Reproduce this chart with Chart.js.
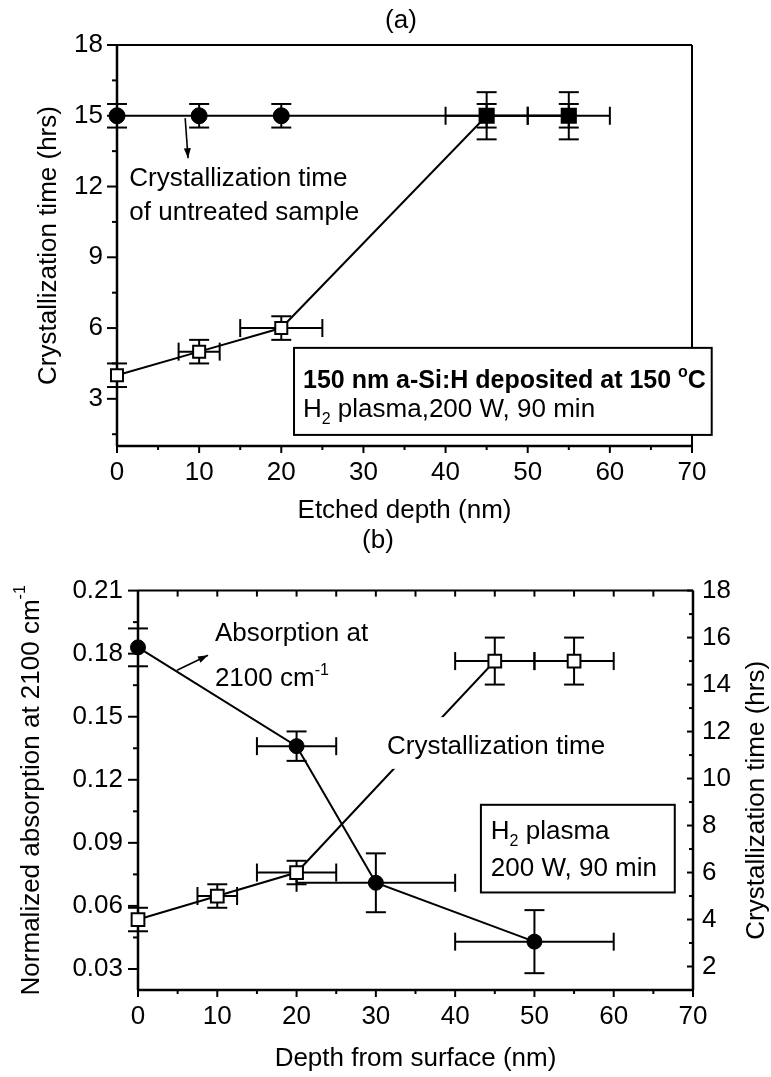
<!DOCTYPE html>
<html lang="en">
<head>
<meta charset="UTF-8">
<title>Crystallization time and absorption vs depth</title>
<script src="https://cdn.jsdelivr.net/npm/chart.js"></script>
<style>
  body { margin: 0; background: #fff; }
  #wrap { position: relative; width: 771px; height: 1077px; }
  #chartA { position: absolute; left: 0; top: 0; width: 771px; height: 560px; }
  #chartB { position: absolute; left: 0; top: 560px; width: 771px; height: 517px; }
</style>
</head>
<body>
<div id="wrap">
  <canvas id="chartA" width="771" height="560"></canvas>
  <canvas id="chartB" width="771" height="517"></canvas>
</div>
<script>
const FONT = '"Liberation Sans", Arial, sans-serif';
const BLACK = '#000';

// (a) crystallization time vs etched depth
const depthA = [0, 10, 20, 45, 55];
const crystA = [4, 5, 6, 15, 15];
const crystErrYA = [0.5, 0.5, 0.5, 1, 1];
const crystErrXA = [0, 2.5, 5, 5, 5];
const untreatedA = [15, 15, 15, 15, 15];
const untreatedErrYA = [0.5, 0.5, 0.5, 0.5, 0.5];
const xTicksA = [0, 10, 20, 30, 40, 50, 60, 70];
const xMinorA = [5, 15, 25, 35, 45, 55, 65];
const yTicksA = [3, 6, 9, 12, 15, 18];
const yMinorA = [1.5, 4.5, 7.5, 10.5, 13.5, 16.5];

// (b) absorption and crystallization time vs depth from surface
const depthAbsB = [0, 20, 30, 50];
const absB = [0.183, 0.136, 0.071, 0.043];
const absErrYB = [0.009, 0.007, 0.014, 0.015];
const absErrXB = [0, 5, 10, 10];
const depthCrystB = [0, 10, 20, 45, 55];
const crystB = [4, 5, 6, 15, 15];
const crystErrYB = [0.5, 0.5, 0.5, 1, 1];
const crystErrXB = [0, 2.5, 5, 5, 5];
const xTicksB = [0, 10, 20, 30, 40, 50, 60, 70];
const xMinorB = [5, 15, 25, 35, 45, 55, 65];
const yTicksB = [0.03, 0.06, 0.09, 0.12, 0.15, 0.18, 0.21];
const yMinorB = [0.045, 0.075, 0.105, 0.135, 0.165, 0.195];
const y2TicksB = [2, 4, 6, 8, 10, 12, 14, 16, 18];
const y2MinorB = [3, 5, 7, 9, 11, 13, 15, 17];

const toXY = (xs, ys) => xs.map((x, i) => ({ x: x, y: ys[i] }));
const setTicks = vals => scale => { scale.ticks = vals.map(v => ({ value: v })); };

function line(ctx, x1, y1, x2, y2, w) {
  ctx.lineWidth = w;
  ctx.beginPath(); ctx.moveTo(x1, y1); ctx.lineTo(x2, y2); ctx.stroke();
}
// tick marks along an axis; len sign gives direction
function tickMarks(ctx, scale, vals, at, len, w) {
  vals.forEach(v => {
    const p = scale.getPixelForValue(v);
    if (scale.isHorizontal()) line(ctx, p, at, p, at + len, w);
    else line(ctx, at, p, at + len, p, w);
  });
}
function arrow(ctx, x1, y1, x2, y2) {
  line(ctx, x1, y1, x2, y2, 1.6);
  const ang = Math.atan2(y2 - y1, x2 - x1);
  ctx.beginPath();
  ctx.moveTo(x2, y2);
  ctx.lineTo(x2 - 10 * Math.cos(ang) + 3.5 * Math.sin(ang), y2 - 10 * Math.sin(ang) - 3.5 * Math.cos(ang));
  ctx.lineTo(x2 - 10 * Math.cos(ang) - 3.5 * Math.sin(ang), y2 - 10 * Math.sin(ang) + 3.5 * Math.cos(ang));
  ctx.closePath(); ctx.fill();
}
// text with sub/superscript parts
function rich(ctx, parts, x, y, size, weight, measureOnly) {
  let cx = x;
  parts.forEach(p => {
    const s = (p.sub || p.sup) ? Math.round(size * 0.62) : size;
    ctx.font = (weight || 'normal') + ' ' + s + 'px ' + FONT;
    const dy = p.sub ? size * 0.28 : (p.sup ? -size * 0.42 : 0);
    if (!measureOnly) ctx.fillText(p.t, cx, y + dy);
    cx += ctx.measureText(p.t).width;
  });
  return cx - x;
}

const errorBars = {
  id: 'errorBars',
  beforeDatasetsDraw(chart) {
    const ctx = chart.ctx;
    ctx.save();
    ctx.strokeStyle = BLACK;
    chart.data.datasets.forEach((ds, i) => {
      const meta = chart.getDatasetMeta(i);
      const xs = chart.scales[meta.xAxisID], ys = chart.scales[meta.yAxisID];
      ds.data.forEach((p, j) => {
        const px = xs.getPixelForValue(p.x), py = ys.getPixelForValue(p.y);
        const ey = ds.errY ? ds.errY[j] : 0, ex = ds.errX ? ds.errX[j] : 0;
        if (ey) {
          const t = ys.getPixelForValue(p.y + ey), b = ys.getPixelForValue(p.y - ey);
          line(ctx, px, t, px, b, 2);
          line(ctx, px - 10, t, px + 10, t, 2);
          line(ctx, px - 10, b, px + 10, b, 2);
        }
        if (ex) {
          const l = xs.getPixelForValue(p.x - ex), r = xs.getPixelForValue(p.x + ex);
          line(ctx, l, py, r, py, 2);
          line(ctx, l, py - 9, l, py + 9, 2);
          line(ctx, r, py - 9, r, py + 9, 2);
        }
      });
    });
    ctx.restore();
  }
};

const tickFont = { family: FONT, size: 26 };
const titleFont = { family: FONT, size: 26 };

// ---------- chart (a) ----------
const frameA = {
  id: 'frameA',
  beforeDatasetsDraw(chart) {
    const { ctx, chartArea: a, scales: { x, y } } = chart;
    ctx.save();
    ctx.strokeStyle = BLACK;
    line(ctx, a.left, a.top, a.right, a.top, 2);
    line(ctx, a.right, a.top, a.right, a.bottom, 2);
    line(ctx, a.left - 1, a.bottom, a.right + 1, a.bottom, 2.5);
    line(ctx, a.left, a.top, a.left, a.bottom, 2.5);
    tickMarks(ctx, x, xTicksA, a.bottom, 7, 2);
    tickMarks(ctx, x, xMinorA, a.bottom, 4, 2);
    tickMarks(ctx, y, yTicksA, a.left, -10, 2);
    tickMarks(ctx, y, yMinorA, a.left, -5, 2);
    ctx.restore();
  }
};
const notesA = {
  id: 'notesA',
  afterDatasetsDraw(chart) {
    const { ctx, scales: { x, y } } = chart;
    ctx.save();
    ctx.fillStyle = BLACK; ctx.strokeStyle = BLACK;
    ctx.textBaseline = 'alphabetic'; ctx.textAlign = 'left';
    arrow(ctx, x.getPixelForValue(8.3), y.getPixelForValue(14.9), x.getPixelForValue(8.65), y.getPixelForValue(13.2));
    ctx.font = '26px ' + FONT;
    ctx.fillText('Crystallization time', x.getPixelForValue(1.5), y.getPixelForValue(12.02));
    ctx.fillText('of untreated sample', x.getPixelForValue(1.5), y.getPixelForValue(10.6));
    // info box
    const bl = x.getPixelForValue(21.55), br = x.getPixelForValue(72.4);
    const bt = y.getPixelForValue(5.16), bb = y.getPixelForValue(1.47);
    ctx.fillStyle = '#fff';
    ctx.fillRect(bl, bt, br - bl, bb - bt);
    ctx.lineWidth = 2;
    ctx.strokeRect(bl, bt, br - bl, bb - bt);
    ctx.fillStyle = BLACK;
    rich(ctx, [{ t: '150 nm a-Si:H deposited at 150 ' }, { t: 'o', sup: true }, { t: 'C' }],
      x.getPixelForValue(22.64), y.getPixelForValue(3.46), 25, 'bold');
    rich(ctx, [{ t: 'H' }, { t: '2', sub: true }, { t: ' plasma,200 W, 90 min' }],
      x.getPixelForValue(22.64), y.getPixelForValue(2.23), 26);
    // panel labels
    ctx.textAlign = 'center'; ctx.textBaseline = 'middle';
    ctx.font = '26px ' + FONT;
    ctx.fillText('(a)', 401, 21);
    ctx.fillText('(b)', 378, 541);
    ctx.restore();
  }
};

new Chart(document.getElementById('chartA'), {
  type: 'line',
  data: {
    datasets: [
      {
        data: toXY(depthA, crystA), errY: crystErrYA, errX: crystErrXA,
        borderColor: BLACK, borderWidth: 2, pointStyle: 'rect',
        pointRadius: [8.5, 8.5, 8.5, 10, 10],
        pointBackgroundColor: ['#fff', '#fff', '#fff', '#000', '#000'],
        pointBorderColor: BLACK, pointBorderWidth: 2, clip: false
      },
      {
        data: toXY(depthA, untreatedA), errY: untreatedErrYA,
        borderColor: BLACK, borderWidth: 2, pointStyle: 'circle',
        pointRadius: [8, 8, 8, 6.5, 6.5],
        pointBackgroundColor: BLACK, pointBorderColor: BLACK, pointBorderWidth: 1, clip: false
      }
    ]
  },
  options: {
    responsive: false, animation: false,
    layout: { padding: { left: 0, right: 79, top: 45, bottom: 0 } },
    plugins: { legend: { display: false }, tooltip: { enabled: false } },
    scales: {
      x: {
        type: 'linear', min: 0, max: 70,
        afterBuildTicks: setTicks(xTicksA),
        afterFit: s => { s.height = 114; },
        grid: { display: false, drawTicks: false }, border: { display: false },
        ticks: { font: tickFont, color: BLACK, padding: 11, maxRotation: 0 },
        title: { display: true, text: 'Etched depth (nm)', font: titleFont, color: BLACK, padding: { top: 0, bottom: 34 } }
      },
      y: {
        type: 'linear', min: 1, max: 18,
        afterBuildTicks: setTicks(yTicksA),
        afterFit: s => { s.width = 117; },
        grid: { display: false, drawTicks: false }, border: { display: false },
        ticks: { font: tickFont, color: BLACK, padding: 14 },
        title: { display: true, text: 'Crystallization time (hrs)', font: titleFont, color: BLACK, padding: { top: 33, bottom: 0 } }
      }
    }
  },
  plugins: [frameA, errorBars, notesA]
});

// ---------- chart (b) ----------
const frameB = {
  id: 'frameB',
  beforeDatasetsDraw(chart) {
    const { ctx, chartArea: a, scales: { x, y, y2 } } = chart;
    ctx.save();
    ctx.strokeStyle = BLACK;
    line(ctx, a.left, a.top, a.right, a.top, 2);
    line(ctx, a.right, a.top, a.right, a.bottom, 2.5);
    line(ctx, a.left - 1, a.bottom, a.right + 1, a.bottom, 2.5);
    line(ctx, a.left, a.top, a.left, a.bottom, 2.5);
    tickMarks(ctx, x, xTicksB, a.bottom, 7, 2);
    tickMarks(ctx, x, xMinorB, a.bottom, 4, 2);
    tickMarks(ctx, x, xTicksB.concat(xMinorB), a.top, 6, 2);
    tickMarks(ctx, y, yTicksB, a.left, -10, 2);
    tickMarks(ctx, y, yMinorB, a.left, -5, 2);
    tickMarks(ctx, y2, y2TicksB, a.right, -6, 2);
    tickMarks(ctx, y2, y2MinorB, a.right, -4, 2);
    ctx.restore();
  }
};
const notesB = {
  id: 'notesB',
  afterDatasetsDraw(chart) {
    const { ctx, chartArea: a, scales: { x, y } } = chart;
    ctx.save();
    ctx.fillStyle = BLACK; ctx.strokeStyle = BLACK;
    ctx.textAlign = 'left'; ctx.textBaseline = 'alphabetic';
    ctx.font = '26px ' + FONT;
    ctx.fillText('Absorption at', x.getPixelForValue(9.7), y.getPixelForValue(0.1858));
    rich(ctx, [{ t: '2100 cm' }, { t: '-1', sup: true }], x.getPixelForValue(9.7), y.getPixelForValue(0.1645), 26);
    arrow(ctx, x.getPixelForValue(4.92), y.getPixelForValue(0.1721), x.getPixelForValue(8.83), y.getPixelForValue(0.1792));
    // label over the crystallization line
    const ll = x.getPixelForValue(30.9), lr = x.getPixelForValue(60.2);
    const lt = y.getPixelForValue(0.1498), lb = y.getPixelForValue(0.1252);
    ctx.fillStyle = '#fff';
    ctx.fillRect(ll, lt, lr - ll, lb - lt);
    ctx.fillStyle = BLACK;
    ctx.font = '26px ' + FONT;
    ctx.fillText('Crystallization time', x.getPixelForValue(31.4), y.getPixelForValue(0.1323));
    // info box
    const bl = x.getPixelForValue(43.25), br = x.getPixelForValue(67.7);
    const bt = y.getPixelForValue(0.1081), bb = y.getPixelForValue(0.0664);
    ctx.fillStyle = '#fff';
    ctx.fillRect(bl, bt, br - bl, bb - bt);
    ctx.lineWidth = 2;
    ctx.strokeRect(bl, bt, br - bl, bb - bt);
    ctx.fillStyle = BLACK;
    rich(ctx, [{ t: 'H' }, { t: '2', sub: true }, { t: ' plasma' }], x.getPixelForValue(44.5), y.getPixelForValue(0.092), 26);
    ctx.font = '26px ' + FONT;
    ctx.fillText('200 W, 90 min', x.getPixelForValue(44.5), y.getPixelForValue(0.0744));
    // rotated axis titles
    ctx.textBaseline = 'middle';
    const leftParts = [{ t: 'Normalized absorption at 2100 cm' }, { t: '-1', sup: true }];
    const lw = rich(ctx, leftParts, 0, 0, 26, 'normal', true);
    ctx.save();
    ctx.translate(32, (a.top + a.bottom) / 2);
    ctx.rotate(-Math.PI / 2);
    rich(ctx, leftParts, -lw / 2, 0, 26);
    ctx.restore();
    ctx.save();
    ctx.translate(757, (a.top + a.bottom) / 2 + 10);
    ctx.rotate(-Math.PI / 2);
    ctx.textAlign = 'center';
    ctx.font = '26px ' + FONT;
    ctx.fillText('Crystallization time (hrs)', 0, 0);
    ctx.restore();
    ctx.restore();
  }
};

new Chart(document.getElementById('chartB'), {
  type: 'line',
  data: {
    datasets: [
      {
        data: toXY(depthCrystB, crystB), errY: crystErrYB, errX: crystErrXB, yAxisID: 'y2',
        borderColor: BLACK, borderWidth: 2, pointStyle: 'rect', pointRadius: 9,
        pointBackgroundColor: '#fff', pointBorderColor: BLACK, pointBorderWidth: 2, clip: false
      },
      {
        data: toXY(depthAbsB, absB), errY: absErrYB, errX: absErrXB, yAxisID: 'y',
        borderColor: BLACK, borderWidth: 2, pointStyle: 'circle', pointRadius: 7.5,
        pointBackgroundColor: BLACK, pointBorderColor: BLACK, pointBorderWidth: 1, clip: false
      }
    ]
  },
  options: {
    responsive: false, animation: false,
    layout: { padding: { left: 0, right: 0, top: 29, bottom: 0 } },
    plugins: { legend: { display: false }, tooltip: { enabled: false } },
    scales: {
      x: {
        type: 'linear', min: 0, max: 70,
        afterBuildTicks: setTicks(xTicksB),
        afterFit: s => { s.height = 87; },
        grid: { display: false, drawTicks: false }, border: { display: false },
        ticks: { font: tickFont, color: BLACK, padding: 11, maxRotation: 0 },
        title: { display: true, text: 'Depth from surface (nm)', font: titleFont, color: BLACK, padding: { top: 0, bottom: 3 } }
      },
      y: {
        type: 'linear', position: 'left', min: 0.02, max: 0.21,
        afterBuildTicks: setTicks(yTicksB),
        afterFit: s => { s.width = 138; },
        grid: { display: false, drawTicks: false }, border: { display: false },
        ticks: { font: tickFont, color: BLACK, padding: 15, callback: v => v.toFixed(2) }
      },
      y2: {
        type: 'linear', position: 'right', min: 1, max: 18,
        afterBuildTicks: setTicks(y2TicksB),
        afterFit: s => { s.width = 78; },
        grid: { display: false, drawTicks: false }, border: { display: false },
        ticks: { font: tickFont, color: BLACK, padding: 9 }
      }
    }
  },
  plugins: [frameB, errorBars, notesB]
});
</script>
</body>
</html>
